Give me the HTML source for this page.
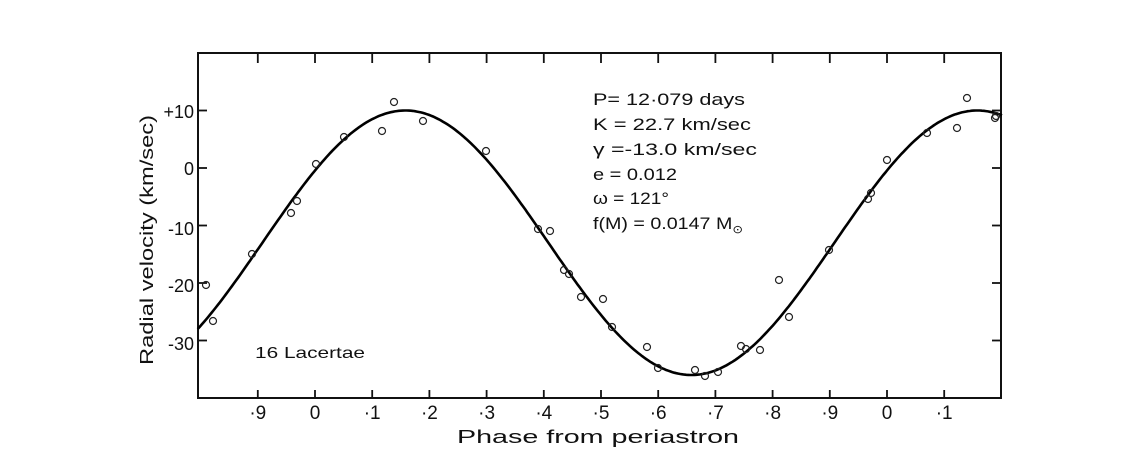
<!DOCTYPE html>
<html><head><meta charset="utf-8"><style>
html,body{margin:0;padding:0;background:#fff;}
svg{display:block;font-family:"Liberation Sans","DejaVu Sans",sans-serif;}
</style></head><body>
<svg id="s" width="1131" height="457" viewBox="0 0 1131 457" xmlns="http://www.w3.org/2000/svg">
<rect width="1131" height="457" fill="#fff"/>
<g stroke="#111" stroke-width="2" fill="none">
<rect x="198" y="53" width="803" height="345"/>
</g>
<g id="ticks" stroke="#111" stroke-width="1.8"></g>
<path id="curve" d="" stroke="#000" stroke-width="2.6" fill="none"/>
<g id="pts" stroke="#222" stroke-width="1.2" fill="none"></g>
<g fill="#111" font-size="18">
<text x="194" y="118" text-anchor="end">+10</text>
<text x="194" y="175" text-anchor="end">0</text>
<text x="194" y="235" text-anchor="end">-10</text>
<text x="194" y="292" text-anchor="end">-20</text>
<text x="194" y="350" text-anchor="end">-30</text>
<g id="xl" text-anchor="middle" font-size="19"></g>
<text x="598" y="443" text-anchor="middle" font-size="18" textLength="282" lengthAdjust="spacingAndGlyphs">Phase  from  periastron</text>
<text transform="translate(153,240) rotate(-90)" text-anchor="middle" font-size="18" textLength="250" lengthAdjust="spacingAndGlyphs">Radial  velocity  (km/sec)</text>
<text x="255" y="358" font-size="16" textLength="110" lengthAdjust="spacingAndGlyphs">16  Lacertae</text>
<g font-size="17">
<text x="593" y="105" textLength="152" lengthAdjust="spacingAndGlyphs">P= 12·079  days</text>
<text x="593" y="130" textLength="158" lengthAdjust="spacingAndGlyphs">K = 22.7  km/sec</text>
<text x="593" y="155" textLength="164" lengthAdjust="spacingAndGlyphs">γ =-13.0  km/sec</text>
<text x="593" y="180" textLength="84" lengthAdjust="spacingAndGlyphs">e = 0.012</text>
<text x="593" y="204" textLength="76" lengthAdjust="spacingAndGlyphs">ω = 121°</text>
<text x="593" y="229" textLength="150" lengthAdjust="spacingAndGlyphs">f(M) = 0.0147 M<tspan font-size="11" dy="4">⊙</tspan></text>
</g>
</g>
</svg>
<script>
var NS="http://www.w3.org/2000/svg";
function X(p){return 315+572*p;}
function Y(v){return 168-5.75*v;}
var d="";
for(var i=0;i<=400;i++){var p=-0.205+1.406*i/400;var v=-13+23*Math.cos(2*Math.PI*(p-0.158));d+=(i?"L":"M")+X(p).toFixed(1)+" "+Y(v).toFixed(1);}
document.getElementById("curve").setAttribute("d",d);
var pts=[[206,285],[213,321],[252,254],[291,213],[297,201],[316,164],[344,137],[382,131],[394,102],[423,121],[486,151],[538,229],[550,231],[564,270],[569,274],[581,297],[603,299],[612,327],[647,347],[658,368],[695,370],[705,376],[718,372],[741,346],[746,349],[760,350],[779,280],[789,317],[829,250],[868,199],[871,193],[887,160],[927,133],[957,128],[967,98],[995,118],[996,116]];
var g=document.getElementById("pts");
pts.forEach(function(q){var c=document.createElementNS(NS,"circle");c.setAttribute("cx",q[0]);c.setAttribute("cy",q[1]);c.setAttribute("r",3.5);g.appendChild(c);});
var t=document.getElementById("ticks"),xl=document.getElementById("xl");
var labs=["·9","0","·1","·2","·3","·4","·5","·6","·7","·8","·9","0","·1"];
for(var k=0;k<13;k++){var x=X(-0.1+0.1*k);
 [[x,398,x,390],[x,53,x,63]].forEach(function(a){var l=document.createElementNS(NS,"line");l.setAttribute("x1",a[0]);l.setAttribute("y1",a[1]);l.setAttribute("x2",a[2]);l.setAttribute("y2",a[3]);t.appendChild(l);});
 var tx=document.createElementNS(NS,"text");tx.setAttribute("x",x);tx.setAttribute("y",419);tx.textContent=labs[k];xl.appendChild(tx);}
[10,0,-10,-20,-30].forEach(function(v){var y=Y(v);
 [[198,y,207,y],[1001,y,992,y]].forEach(function(a){var l=document.createElementNS(NS,"line");l.setAttribute("x1",a[0]);l.setAttribute("y1",a[1]);l.setAttribute("x2",a[2]);l.setAttribute("y2",a[3]);t.appendChild(l);});});
</script>
</body></html>
